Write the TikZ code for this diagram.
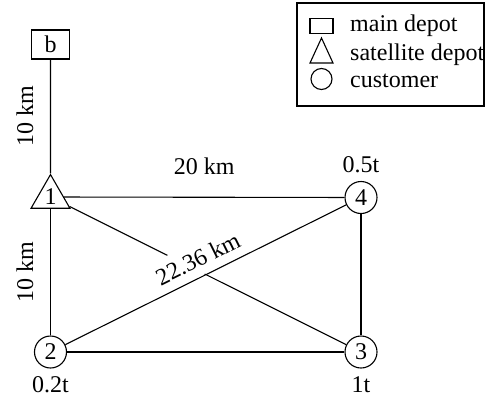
\documentclass[tikz,border=0pt]{standalone}
\usepackage{fontspec}
\setmainfont{Liberation Serif}
\usetikzlibrary{positioning,shapes.geometric}
\begin{document}
\begin{tikzpicture}[x=1pt,y=-1pt]
	\tikzstyle{every node}=[font=\fontsize{24pt}{29pt}\selectfont]
	\tikzstyle{edge}=[line width=1.1pt]
	\tikzstyle{depot}=[draw, line width=1.1pt, rectangle, minimum width=38pt, minimum height=29pt, inner sep=0pt]
	\tikzstyle{satellite}=[draw, line width=1.1pt, regular polygon, regular polygon sides=3, minimum size=41.6pt, inner sep=0pt]
	\tikzstyle{customer}=[draw, line width=1.1pt, circle, minimum size=32pt, inner sep=0pt]
	\tikzstyle{tag}=[inner sep=0pt]
	\tikzstyle{vtag}=[inner sep=0pt, rotate=90, anchor=south]
	
	\useasboundingbox (0,0) rectangle (486,396);
	
	\node[depot] (b) at (50.5,44.5) {b};
	\node[satellite] (n1) at (50.5,197) {1};
	\node[customer] (n2) at (50.5,352) {2};
	\node[customer] (n3) at (361,352) {3};
	\node[customer] (n4) at (361,197.5) {4};
	
	\draw[edge] (n1) -- (b) coordinate[midway] (m1);
	\draw[edge] (n2) -- (n1) coordinate[midway] (m2);
	\draw[edge] (n1) -- (n4) node[tag, midway, above=22pt]{20 km};
	\draw[edge] (n1) -- (n3);
	\draw[edge] (n2) -- (n3);
	\draw[edge] (n4) -- (n3);
	\draw[edge] (n2) -- (n4)
	node[midway, sloped, above=0.8pt, fill=white, inner sep=8pt]{22.36 km};
	
	\node[vtag] (d1) at ([xshift=-17pt]m1) {10 km};
	\node[vtag] (d2) at ([xshift=-17pt]m2) {10 km};
	
	\node[tag, above=8pt of n4] (w4) {0.5t};
	\node[tag, below=7.5pt of n2] (w2) {0.2t};
	\node[tag, below=7.5pt of n3] (w3) {1t};
	
	% legend
	\draw[line width=1.1pt] (297,3) rectangle (484,106);
	\node[draw, line width=1.1pt, minimum width=23pt, minimum height=15pt, inner sep=0pt] (k1) at (321.5,26) {};
	\draw[line width=1.1pt] (310,63) -- (321.5,38) -- (333,63) -- cycle;
	\node[draw, line width=1.1pt, circle, minimum size=21pt, inner sep=0pt] (k3) at (321.5,79) {};
	\node[inner sep=0pt, anchor=base west] (t1) at (350,32) {main depot};
	\node[inner sep=0pt, anchor=base west] (t2) at (350,60) {satellite depot};
	\node[inner sep=0pt, anchor=base west] (t3) at (350,87) {customer};
	
\end{tikzpicture}
\end{document}
